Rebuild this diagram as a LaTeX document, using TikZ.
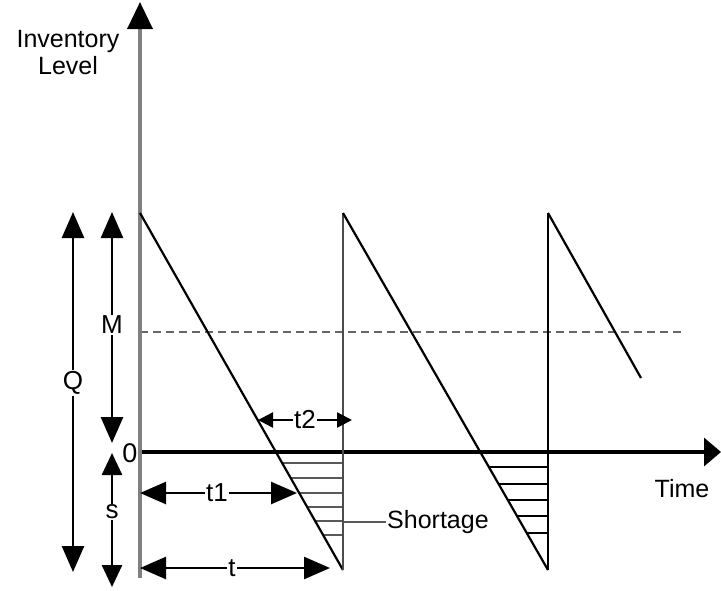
\documentclass[tikz,border=0pt]{standalone}
\usepackage{fontspec}
\setmainfont{Liberation Sans}
\usetikzlibrary{arrows.meta}
\begin{document}
\begin{tikzpicture}[x=1pt,y=-1pt,
  lbl/.style={font=\fontsize{26}{28}\selectfont, inner sep=1pt, fill=white},
  txt/.style={font=\fontsize{25}{27}\selectfont, inner sep=1pt},
  dimarrow/.style={line width=2.6pt, {Triangle[length=26pt,width=22pt]}-{Triangle[length=26pt,width=22pt]}},
  smallarrow/.style={line width=2.4pt, {Triangle[length=15pt,width=15pt]}-{Triangle[length=15pt,width=15pt]}},
  saw/.style={line width=2.2pt, black},
  hatchA/.style={line width=2.6pt, gray!70!black},
  hatchB/.style={line width=2.4pt, black}]
\useasboundingbox (0,0) rectangle (721,590);

% coordinates
\coordinate (ybot) at (140,578);
\coordinate (ytop) at (140,2);
\coordinate (xstart) at (140,452);
\coordinate (xend) at (721,452);
\coordinate (A1) at (140,213);
\coordinate (B1) at (343,570);
\coordinate (C1) at (343,213);
\coordinate (B2) at (548,570);
\coordinate (C2) at (548,213);
\coordinate (E3) at (641,378);
\coordinate (D0) at (140,332);
\coordinate (D1) at (685,332);

% dashed level M
\draw[gray!80!black, line width=2.4pt, dash pattern=on 8pt off 5pt] (D0) -- (D1);

% axes
\draw[line width=3.4pt, black, -{Triangle[length=17pt,width=28pt]}] (xstart) -- (xend);
\draw[line width=3.6pt, gray, -{Triangle[length=27pt,width=25pt,color=black]}] (ybot) -- (ytop);

% hatching
\foreach \yy in {463,478,493,507,521,535}
  \draw[hatchA] ({140+(\yy-213)*0.5686},\yy) -- (343,\yy);
\foreach \yy in {467,484,500,516,533}
  \draw[hatchB] ({343+(\yy-213)*0.5742},\yy) -- (548,\yy);

% sawtooth
\draw[saw] (A1) -- (B1);
\draw[line width=2.6pt, gray!60!black] (B1) -- (C1);
\draw[saw] (C1) -- (B2);
\draw[line width=2.6pt, black] (B2) -- (C2);
\draw[saw] (C2) -- (E3);

% dimension arrows
\coordinate (Qt) at (73,212); \coordinate (Qb) at (73,572);
\coordinate (Mt) at (112,212); \coordinate (Mb) at (112,443);
\coordinate (st) at (112,453); \coordinate (sb) at (112,587);
\coordinate (t1a) at (140,493); \coordinate (t1b) at (297,493);
\coordinate (ta) at (140,568); \coordinate (tb) at (330,568);
\coordinate (t2a) at (258,420); \coordinate (t2b) at (352,420);

\draw[dimarrow] (Qt) -- (Qb);
\draw[dimarrow] (Mt) -- (Mb);
\draw[dimarrow, {Triangle[length=22pt,width=20pt]}-{Triangle[length=22pt,width=20pt]}] (st) -- (sb);
\draw[dimarrow] (t1a) -- (t1b);
\draw[dimarrow] (ta) -- (tb);
\draw[smallarrow] (t2a) -- (t2b);

\node[lbl] (Q) at (73,383) {Q};
\node[lbl] (M) at (112,325) {M};
\node[lbl] (s) at (112,512) {s};
\node[lbl] (t1) at (217,493) {t1};
\node[lbl] (t) at (232,568) {t};
\node[lbl] (t2) at (305,420) {t2};

% zero and labels
\node[txt, font=\fontsize{27}{28}\selectfont] (zero) at (130,453) {0};
\node[txt] (time) at (682,489) {Time};
\node[txt, align=center] (inv) at (68,53) {Inventory\\Level};

% shortage pointer
\coordinate (sp) at (343,522);
\node[txt, anchor=west] (short) at (386,522) {Shortage};
\draw[line width=2.6pt, gray!70!black] (sp) -- (short.west);
\end{tikzpicture}
\end{document}
